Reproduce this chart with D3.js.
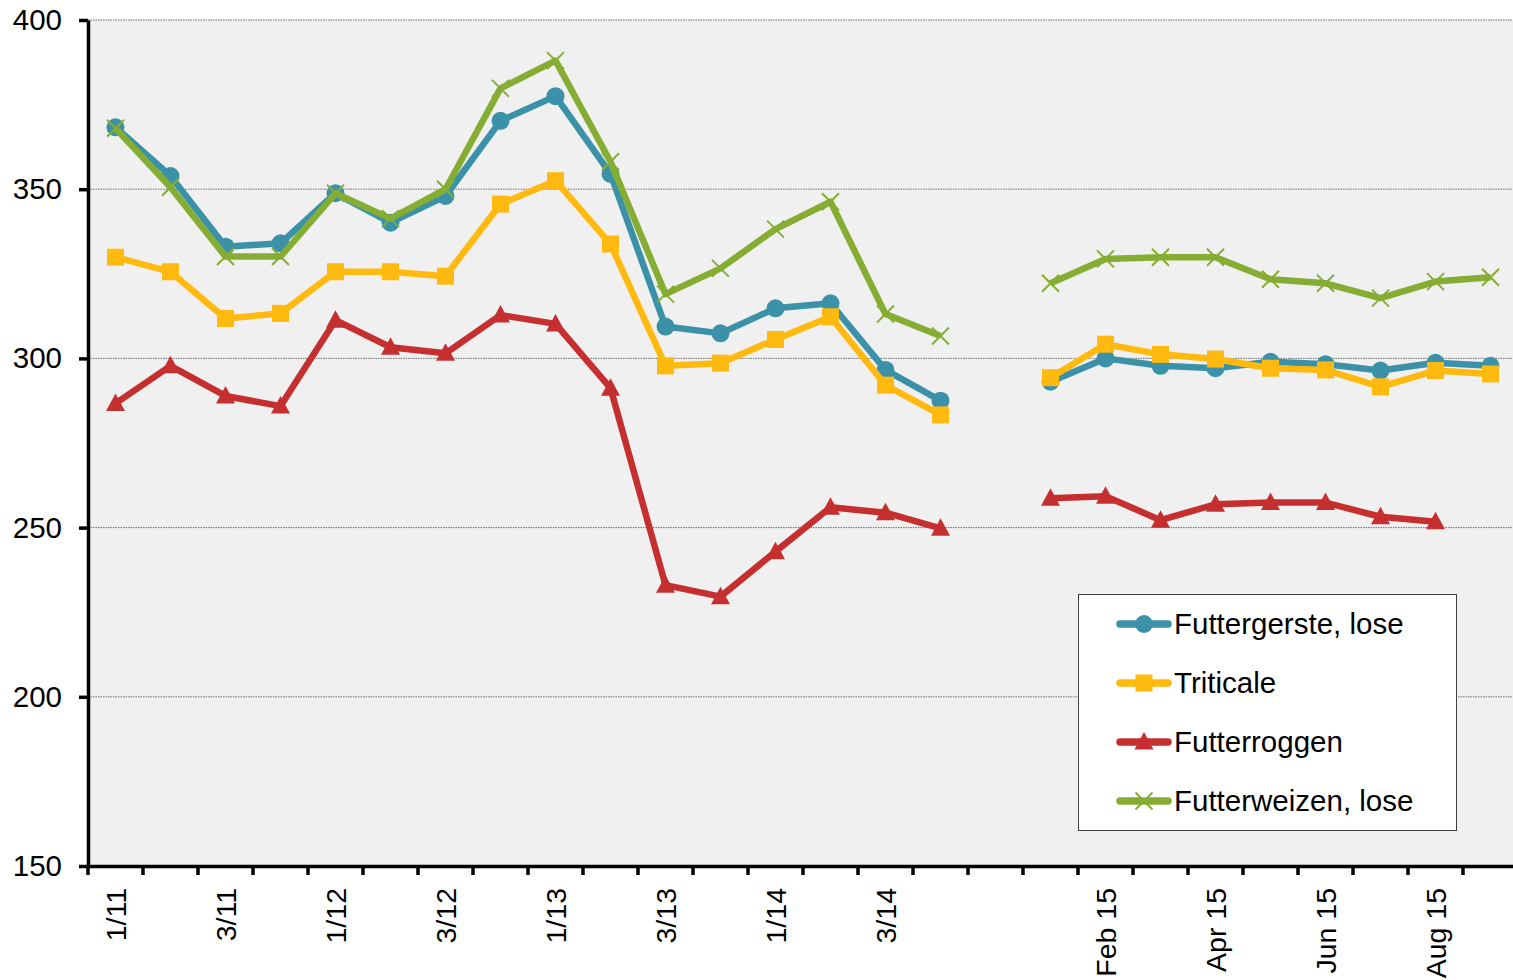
<!DOCTYPE html>
<html>
<head>
<meta charset="utf-8">
<script src="https://cdn.jsdelivr.net/npm/d3@7"></script>
<style>
  body { margin: 0; background: #fff; }
  text { font-family: "Liberation Sans", Arial, sans-serif; fill: #000; }
</style>
</head>
<body>
<div id="chart"></div>
<script>
// categories: quarters 2011-2014, a blank gap, then months of 2015
const categories = ["1/11","2/11","3/11","4/11","1/12","2/12","3/12","4/12",
  "1/13","2/13","3/13","4/13","1/14","2/14","3/14","4/14"," ",
  "Jan 15","Feb 15","Mar 15","Apr 15","May 15","Jun 15","Jul 15","Aug 15","Sep 15"];

const seriesNames = ["Futtergerste, lose", "Triticale", "Futterroggen", "Futterweizen, lose"];

const futtergerste = [368.3,353.9,333.0,334.0,348.8,340.1,348.0,370.2,377.5,354.5,309.4,307.4,314.8,316.3,296.6,287.5,null,
  293.1,300.0,297.8,297.1,299.0,298.3,296.4,298.7,297.8];
const triticale = [329.9,325.6,311.8,313.3,325.6,325.6,324.3,345.6,352.5,333.8,297.8,298.6,305.6,312.3,292.1,283.3,null,
  294.3,304.2,301.2,299.8,297.1,296.6,291.6,296.4,295.4];
const futterroggen = [286.7,297.8,288.9,285.9,311.3,303.3,301.5,312.8,310.2,291.2,233.0,229.6,242.9,256.0,254.4,249.8,null,
  258.7,259.3,252.2,256.9,257.4,257.4,253.2,251.7,null];
const futterweizen = [368.0,350.6,330.1,330.1,348.8,341.3,350.0,379.8,388.0,358.1,319.0,326.6,338.2,346.3,313.1,306.6,null,
  322.2,329.4,329.9,329.9,323.4,322.2,317.8,322.7,324.0];

const yTicks = [150, 200, 250, 300, 350, 400];

const colors = ["#3A91A8", "#FFB90F", "#C62F2F", "#86AD33"];
const markers = ["circle", "square", "triangle", "x"];
const seriesValues = [futtergerste, triticale, futterroggen, futterweizen];

// set the dimensions of the graph
const W = 1513, H = 980;
const plot = {left: 88, top: 20, bottom: 866};

const svg = d3.select("#chart")
  .append("svg")
    .attr("width", W)
    .attr("height", H);

const x = d3.scaleBand()
  .domain(categories)
  .range([plot.left, plot.left + categories.length * 55])
  .padding(0);

const y = d3.scaleLinear()
  .domain([150, 400])
  .range([plot.bottom, plot.top]);

// plot background
svg.append("rect")
  .attr("x", plot.left)
  .attr("y", plot.top)
  .attr("width", x.range()[1] - plot.left)
  .attr("height", plot.bottom - plot.top)
  .attr("fill", "#f0f0f0");

// gridlines
svg.append("g")
  .selectAll("line")
  .data(yTicks.filter(d => d > 150))
  .join("line")
    .attr("x1", plot.left)
    .attr("x2", x.range()[1])
    .attr("y1", d => y(d))
    .attr("y2", d => y(d))
    .attr("stroke", "#6e6e6e")
    .attr("stroke-width", 1)
    .attr("stroke-dasharray", "1.5,1");

// X axis
const xAxis = svg.append("g")
  .attr("transform", `translate(0, ${plot.bottom})`)
  .call(d3.axisBottom(x).tickSize(0).tickSizeOuter(0)
    .tickFormat((d, i) => i % 2 === 0 ? d.trim() : ""));
xAxis.select(".domain").attr("stroke", "#000").attr("stroke-width", 3.5);
xAxis.selectAll("text")
  .attr("transform", "rotate(-90)")
  .attr("x", -22)
  .attr("y", 0)
  .attr("dy", "0.36em")
  .style("text-anchor", "end")
  .style("font-size", "28.5px")
  .style("font-family", "'Liberation Sans', Arial, sans-serif");

// tick marks between categories
svg.append("g")
  .selectAll("line")
  .data(categories.concat(["__end"]))
  .join("line")
    .attr("x1", (d, i) => i < categories.length ? x(d) : x.range()[1])
    .attr("x2", (d, i) => i < categories.length ? x(d) : x.range()[1])
    .attr("y1", plot.bottom)
    .attr("y2", plot.bottom + 9)
    .attr("stroke", "#000")
    .attr("stroke-width", 3.5);

// Y axis
const yAxis = svg.append("g")
  .attr("transform", `translate(${plot.left}, 0)`)
  .call(d3.axisLeft(y).tickValues(yTicks).tickSize(9).tickSizeOuter(0).tickPadding(17));
yAxis.select(".domain").attr("stroke", "#000").attr("stroke-width", 3.5);
yAxis.selectAll(".tick line").attr("stroke", "#000").attr("stroke-width", 3.5);
yAxis.selectAll("text")
  .style("font-size", "29.5px")
  .style("font-family", "'Liberation Sans', Arial, sans-serif");

// marker drawing
function drawMarker(g, type, color) {
  if (type === "circle") {
    g.append("circle").attr("r", 9).attr("fill", color);
  } else if (type === "square") {
    g.append("rect").attr("x", -8.5).attr("y", -8.5).attr("width", 17).attr("height", 17).attr("fill", color);
  } else if (type === "triangle") {
    g.append("path").attr("d", "M0,-10L9.5,7.5L-9.5,7.5Z").attr("fill", color);
  } else {
    g.append("path").attr("d", "M-8.5,-8.5L8.5,8.5M-8.5,8.5L8.5,-8.5")
      .attr("stroke", color).attr("stroke-width", 2).attr("fill", "none");
  }
}

// Lines
const line = d3.line()
  .defined(d => d.v !== null)
  .x(d => x(d.c) + x.bandwidth() / 2)
  .y(d => y(d.v));

seriesValues.forEach((vals, s) => {
  const pts = categories.map((c, i) => ({c: c, v: vals[i]}));
  svg.append("path")
    .datum(pts)
    .attr("d", line)
    .attr("fill", "none")
    .attr("stroke", colors[s])
    .attr("stroke-width", 6.5)
    .attr("stroke-linejoin", "round");
  svg.append("g")
    .selectAll("g")
    .data(pts.filter(d => d.v !== null))
    .join("g")
      .attr("transform", d => `translate(${x(d.c) + x.bandwidth() / 2},${y(d.v)})`)
      .each(function() { drawMarker(d3.select(this), markers[s], colors[s]); });
});

// Legend
const legend = svg.append("g");
legend.append("rect")
  .attr("x", 1078.5)
  .attr("y", 594.5)
  .attr("width", 378)
  .attr("height", 236)
  .attr("fill", "#fff")
  .attr("stroke", "#404040")
  .attr("stroke-width", 1);

const legendY = [624, 683, 742, 801];
seriesNames.forEach((name, s) => {
  const row = legend.append("g").attr("transform", `translate(0, ${legendY[s]})`);
  row.append("line")
    .attr("x1", 1120).attr("x2", 1168)
    .attr("y1", 0).attr("y2", 0)
    .attr("stroke", colors[s])
    .attr("stroke-width", 7.5)
    .attr("stroke-linecap", "round");
  drawMarker(row.append("g").attr("transform", "translate(1144,0)"), markers[s], colors[s]);
  row.append("text")
    .attr("x", 1174)
    .attr("y", 0)
    .attr("dy", "0.35em")
    .style("font-size", "29.5px")
    .text(name);
});
</script>
</body>
</html>
